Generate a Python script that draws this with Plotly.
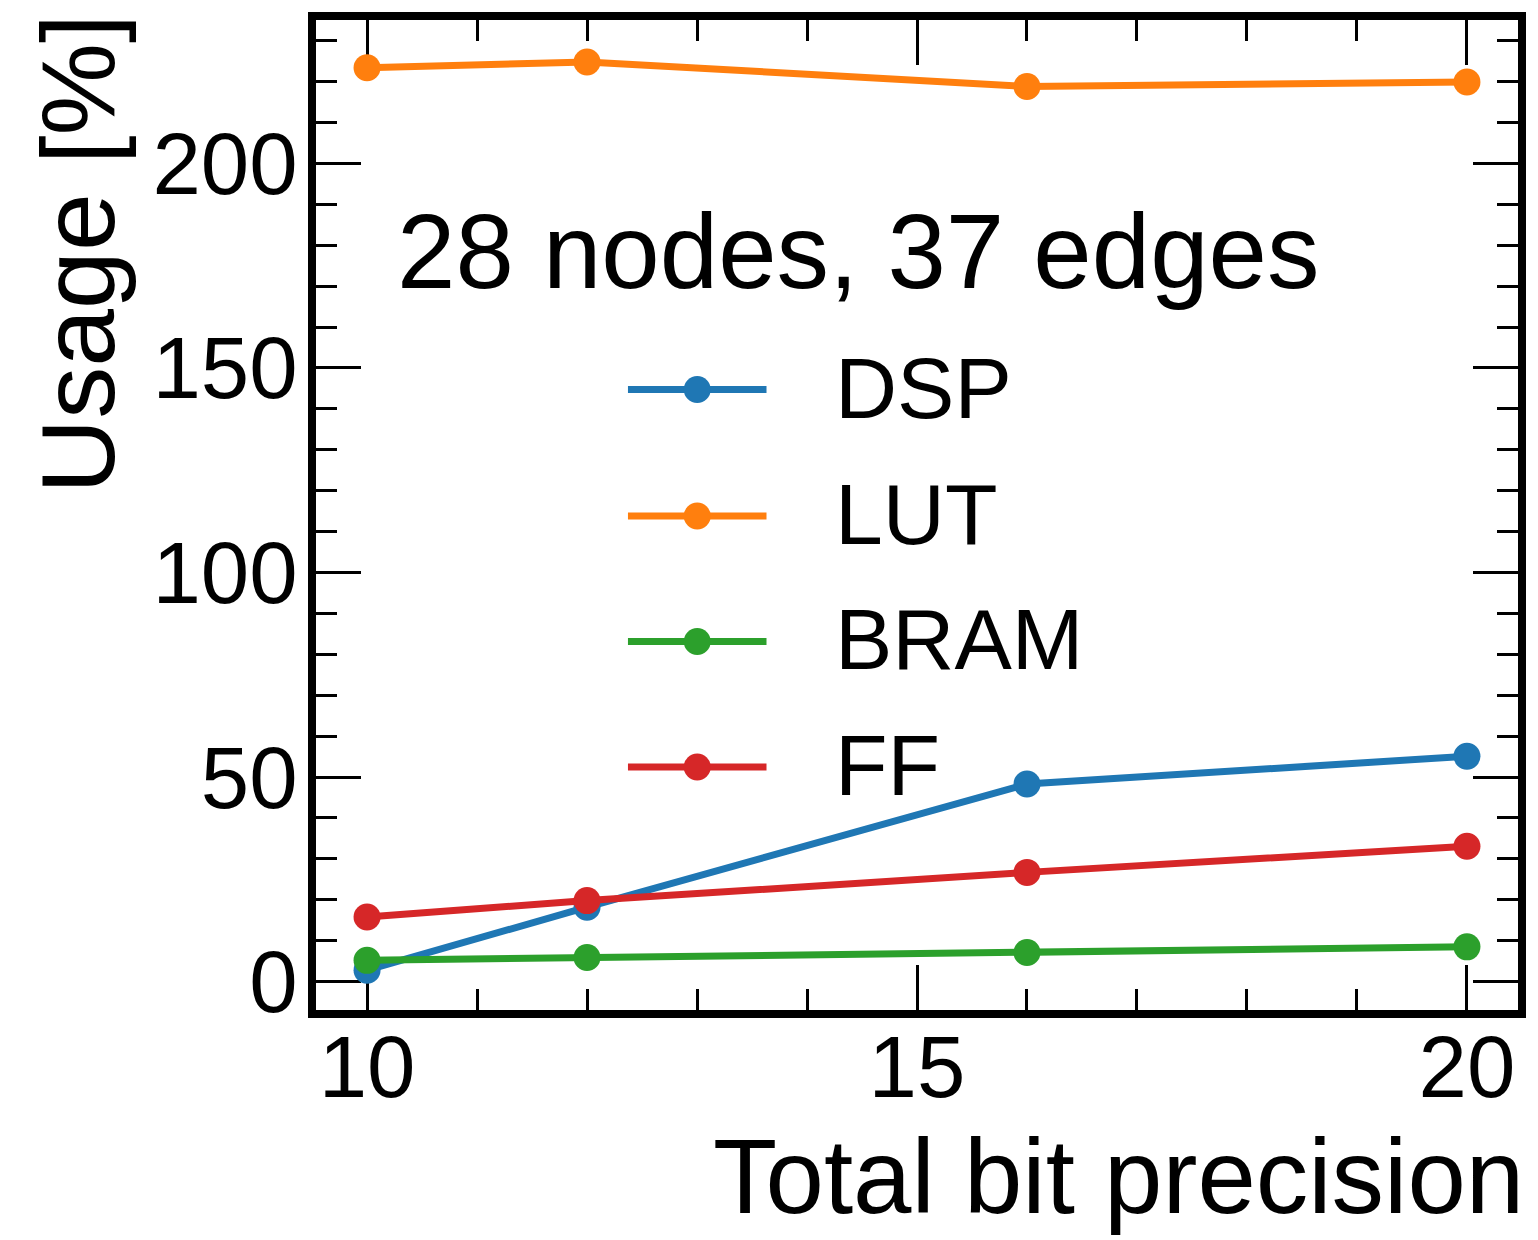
import plotly.graph_objects as go

# ---------------- data ----------------
bits = [10, 12, 16, 20]
dsp = [2.8, 18.2, 48.3, 55.1]
lut = [223.4, 224.8, 218.8, 219.9]
bram = [5.2, 5.9, 7.1, 8.5]
ff = [15.8, 19.8, 26.7, 33.1]
series_names = ["DSP", "LUT", "BRAM", "FF"]
colors = ["#1f77b4", "#ff7f0e", "#2ca02c", "#d62728"]
x_ticks = [10, 15, 20]
y_ticks = [0, 50, 100, 150, 200]
info_text = "28 nodes, 37 edges"
x_title = "Total bit precision"
y_title = "Usage [%]"

# ---------------- layout constants ----------------
W, H = 1538, 1240
L, R, T, B = 316, 1522, 16, 1010   # inner plot area in pixels
FONT = "Liberation Sans, Arial, Helvetica, sans-serif"
TICK_SIZE = 87
LEG_SIZE = 86
TITLE_SIZE = 105


def px(xp):
    return (xp - L) / (R - L)


def py(yp):
    return (B - yp) / (B - T)


fig = go.Figure()
all_series = [dsp, lut, bram, ff]
for name, vals, col in zip(series_names, all_series, colors):
    fig.add_trace(go.Scatter(
        x=bits, y=vals, name=name, mode="lines+markers",
        line=dict(color=col, width=7),
        marker=dict(color=col, size=27),
        showlegend=False, cliponaxis=False,
    ))

axis_common = dict(
    showline=True, linewidth=8, linecolor="black", mirror="allticks",
    ticks="inside", ticklen=45, tickwidth=2.5, tickcolor="black",
    showgrid=False, zeroline=False, layer="below traces",
    tickfont=dict(family=FONT, size=TICK_SIZE, color="black"),
)

fig.update_xaxes(
    range=[9.536, 20.464], tickmode="array", tickvals=x_ticks,
    ticklabelstandoff=-25,
    minor=dict(tickmode="linear", tick0=0, dtick=1, ticks="inside",
               ticklen=21, tickwidth=2.5, tickcolor="black", showgrid=False),
    **axis_common,
)
fig.update_yaxes(
    range=[-6.94, 235.06], tickmode="array", tickvals=y_ticks,
    ticklabelstandoff=-7,
    minor=dict(tickmode="linear", tick0=0, dtick=10, ticks="inside",
               ticklen=21, tickwidth=2.5, tickcolor="black", showgrid=False),
    **axis_common,
)

shapes = []
annotations = []

# manual legend (matplotlib style: long line with marker in the middle)
leg_rows = [387, 514, 640, 766]
for name, col, yrow in zip(series_names, colors, leg_rows):
    shapes.append(dict(type="line", xref="paper", yref="paper",
                       x0=px(629), x1=px(768), y0=py(yrow), y1=py(yrow),
                       line=dict(color=col, width=7), layer="above"))
    shapes.append(dict(type="circle", xref="paper", yref="paper",
                       xsizemode="pixel", ysizemode="pixel",
                       xanchor=px(698.5), yanchor=py(yrow),
                       x0=-13.5, x1=13.5, y0=-13.5, y1=13.5,
                       fillcolor=col, line=dict(width=0), layer="above"))
    annotations.append(dict(text=name, xref="paper", yref="paper",
                            x=px(835), y=py(yrow - 2), xanchor="left", yanchor="middle",
                            showarrow=False,
                            font=dict(family=FONT, size=LEG_SIZE, color="black")))

annotations.append(dict(text=info_text, xref="paper", yref="paper",
                        x=px(395), y=py(248), xanchor="left", yanchor="middle",
                        showarrow=False,
                        font=dict(family=FONT, size=TITLE_SIZE, color="black")))
annotations.append(dict(text=x_title, xref="paper", yref="paper",
                        x=px(1530), y=py(1177), xanchor="right", yanchor="middle",
                        showarrow=False,
                        font=dict(family=FONT, size=TITLE_SIZE, color="black")))
annotations.append(dict(text=y_title, xref="paper", yref="paper",
                        x=px(77), y=py(8), xanchor="center", yanchor="top",
                        textangle=-90, showarrow=False,
                        font=dict(family=FONT, size=104, color="black")))

fig.update_layout(
    width=W, height=H,
    margin=dict(l=L, r=W - R, t=T, b=H - B, pad=0),
    plot_bgcolor="white", paper_bgcolor="white",
    shapes=shapes, annotations=annotations,
    font=dict(family=FONT, color="black"),
)

fig.write_html("out.html")
